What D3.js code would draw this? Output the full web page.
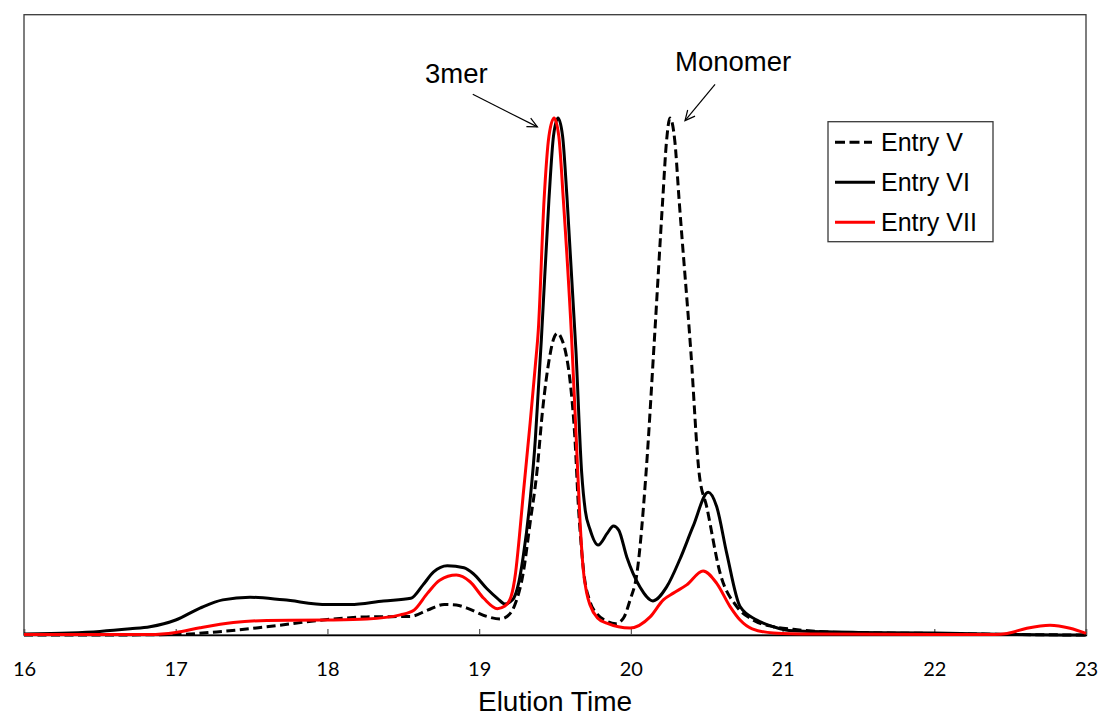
<!DOCTYPE html>
<html>
<head>
<meta charset="utf-8">
<script src="https://cdn.jsdelivr.net/npm/d3@7"></script>
<style>
  html, body { margin: 0; padding: 0; background: #fff; }
  svg { display: block; }
  .tick text { font-family: Lato, "Open Sans", sans-serif; }
</style>
</head>
<body>
<svg id="chart" width="1103" height="717"></svg>
<script>
// Elution profiles: [elution time (min), normalised signal]
const entryV = [
  [16.0, 0], [16.5, 0], [17.0, 0.001], [17.27, 0.006], [17.6, 0.016], [18.0, 0.030],
  [18.26, 0.035], [18.55, 0.036], [18.66, 0.048], [18.77, 0.059], [18.85, 0.058],
  [18.92, 0.052], [19.05, 0.036], [19.14, 0.031], [19.2, 0.040], [19.24, 0.062],
  [19.29, 0.119], [19.336, 0.217], [19.38, 0.313], [19.42, 0.44], [19.46, 0.53],
  [19.49, 0.572], [19.515, 0.584], [19.545, 0.572], [19.575, 0.54], [19.60, 0.49],
  [19.632, 0.377], [19.654, 0.25], [19.665, 0.203], [19.69, 0.12], [19.73, 0.065],
  [19.78, 0.04], [19.84, 0.027], [19.9, 0.022], [19.95, 0.032], [19.995, 0.068],
  [20.04, 0.119], [20.10, 0.313], [20.155, 0.571], [20.21, 0.842], [20.235, 0.955],
  [20.258, 1.0], [20.29, 0.955], [20.318, 0.842], [20.395, 0.55], [20.45, 0.313],
  [20.50, 0.248], [20.588, 0.12], [20.698, 0.055], [20.8, 0.03], [20.94, 0.016],
  [21.07, 0.011], [21.29, 0.006], [21.6, 0.004], [22.0, 0.003], [22.5, 0.001], [23.0, 0]
];

const entryVI = [
  [16.0, 0.002], [16.3, 0.004], [16.5, 0.007], [16.7, 0.012], [16.83, 0.016],
  [17.0, 0.029], [17.16, 0.052], [17.31, 0.068], [17.49, 0.073], [17.71, 0.068],
  [18.0, 0.059], [18.15, 0.059], [18.37, 0.066], [18.55, 0.071], [18.63, 0.097],
  [18.70, 0.122], [18.79, 0.134], [18.90, 0.130], [18.96, 0.119], [19.05, 0.090],
  [19.12, 0.071], [19.17, 0.060], [19.22, 0.068], [19.26, 0.10], [19.29, 0.151],
  [19.336, 0.261], [19.37, 0.377], [19.39, 0.474], [19.41, 0.571], [19.46, 0.842],
  [19.49, 0.965], [19.52, 1.0], [19.55, 0.965], [19.58, 0.842], [19.638, 0.55],
  [19.676, 0.313], [19.70, 0.24], [19.73, 0.205], [19.784, 0.174], [19.845, 0.197],
  [19.885, 0.211], [19.92, 0.203], [19.973, 0.151], [20.06, 0.093], [20.146, 0.066],
  [20.236, 0.093], [20.324, 0.147], [20.41, 0.21], [20.51, 0.276], [20.566, 0.248],
  [20.632, 0.158], [20.72, 0.055], [20.83, 0.029], [20.94, 0.016], [21.07, 0.008],
  [21.5, 0.005], [22.0, 0.004], [22.5, 0.001], [23.0, 0]
];

const entryVII = [
  [16.0, 0.001], [16.5, 0.001], [16.83, 0.001], [17.0, 0.005], [17.16, 0.014],
  [17.38, 0.024], [17.60, 0.028], [18.0, 0.029], [18.26, 0.031], [18.48, 0.039],
  [18.57, 0.048], [18.66, 0.081], [18.74, 0.106], [18.85, 0.116], [18.94, 0.103],
  [19.03, 0.071], [19.12, 0.051], [19.17, 0.056], [19.21, 0.074], [19.24, 0.12],
  [19.265, 0.19], [19.29, 0.27], [19.336, 0.41], [19.37, 0.52], [19.39, 0.59],
  [19.428, 0.842], [19.46, 0.965], [19.494, 1.0], [19.525, 0.965], [19.555, 0.842],
  [19.61, 0.571], [19.64, 0.38], [19.665, 0.22], [19.685, 0.13], [19.71, 0.08],
  [19.731, 0.058], [19.78, 0.033], [19.841, 0.023], [19.995, 0.0135], [20.127, 0.035],
  [20.214, 0.068], [20.28, 0.081], [20.368, 0.097], [20.476, 0.124], [20.566, 0.1],
  [20.654, 0.055], [20.72, 0.029], [20.8, 0.012], [20.94, 0.004], [21.2, 0.002],
  [22.0, 0.001], [22.4, 0.001], [22.48, 0.003], [22.61, 0.013], [22.763, 0.019],
  [22.895, 0.013], [23.0, 0.003]
];

const xTicks = [16, 17, 18, 19, 20, 21, 22, 23];
const seriesNames = ["Entry V", "Entry VI", "Entry VII"];

// Peak annotations: label anchor and arrow from tail to tip, in data units
const annotations = [
  { text: "3mer",    label: [18.643, 1.068], tail: [18.958, 1.046], tip: [19.384, 0.983] },
  { text: "Monomer", label: [20.291, 1.091], tail: [20.555, 1.065], tip: [20.357, 0.995] }
];

const width = 1103, height = 717;
const margin = { top: 14.7, right: 17, bottom: 82, left: 24 };
const plotW = width - margin.left - margin.right;
const plotH = height - margin.top - margin.bottom;

const svg = d3.select("#chart");
const g = svg.append("g").attr("transform", `translate(${margin.left},${margin.top})`);

const x = d3.scaleLinear().domain([16, 23]).range([0, plotW]);
const y = d3.scaleLinear().domain([0, 1.2]).range([plotH, 0]);

// Plot frame
g.append("rect")
  .attr("x", 0).attr("y", 0)
  .attr("width", plotW).attr("height", plotH)
  .attr("fill", "none")
  .attr("stroke", "#3a3a3a")
  .attr("stroke-width", 1.3);

// X axis with inward ticks
const xAxis = d3.axisBottom(x)
  .tickValues(xTicks)
  .tickFormat(d3.format("d"))
  .tickSize(-6)
  .tickPadding(27);

const axisG = g.append("g")
  .attr("transform", `translate(0,${plotH})`)
  .call(xAxis);
axisG.select(".domain").attr("stroke", "#000").attr("stroke-width", 1.3);
axisG.selectAll(".tick line").attr("stroke", "#555").attr("stroke-width", 1.2);
axisG.selectAll(".tick text")
  .attr("font-size", 20)
  .attr("fill", "#000");

// Axis title
svg.append("text")
  .attr("x", margin.left + plotW / 2)
  .attr("y", 710.5)
  .attr("text-anchor", "middle")
  .attr("font-family", "Liberation Sans, Arial, sans-serif")
  .attr("font-size", 28)
  .attr("fill", "#000")
  .text("Elution Time");

// Curves
const line = d3.line()
  .x(d => x(d[0]))
  .y(d => y(d[1]))
  .curve(d3.curveMonotoneX);

const styles = [
  { data: entryV,   color: "#000", dash: "9,4.5" },
  { data: entryVI,  color: "#000", dash: null },
  { data: entryVII, color: "#ff0000", dash: null }
];

const curves = g.append("g");
styles.forEach(s => {
  curves.append("path")
    .datum(s.data)
    .attr("d", line)
    .attr("fill", "none")
    .attr("stroke", s.color)
    .attr("stroke-width", 3)
    .attr("stroke-linejoin", "round")
    .attr("stroke-dasharray", s.dash);
});

// Annotations with open arrowheads
const annG = g.append("g");
annotations.forEach(a => {
  annG.append("text")
    .attr("x", x(a.label[0]))
    .attr("y", y(a.label[1]))
    .attr("font-family", "Liberation Sans, Arial, sans-serif")
    .attr("font-size", 27.5)
    .attr("fill", "#000")
    .text(a.text);

  const x1 = x(a.tail[0]), y1 = y(a.tail[1]);
  const x2 = x(a.tip[0]), y2 = y(a.tip[1]);
  annG.append("line")
    .attr("x1", x1).attr("y1", y1).attr("x2", x2).attr("y2", y2)
    .attr("stroke", "#000").attr("stroke-width", 1.2);

  const ang = Math.atan2(y2 - y1, x2 - x1);
  const len = 11, spread = Math.PI / 7;
  const head = [
    [x2 - len * Math.cos(ang - spread), y2 - len * Math.sin(ang - spread)],
    [x2, y2],
    [x2 - len * Math.cos(ang + spread), y2 - len * Math.sin(ang + spread)]
  ];
  annG.append("path")
    .attr("d", d3.line()(head))
    .attr("fill", "none")
    .attr("stroke", "#000")
    .attr("stroke-width", 1.2);
});

// Legend
const legend = svg.append("g").attr("transform", "translate(828,121.7)");
legend.append("rect")
  .attr("x", 0).attr("y", 0)
  .attr("width", 165).attr("height", 120)
  .attr("fill", "#fff")
  .attr("stroke", "#3a3a3a")
  .attr("stroke-width", 1.3);

seriesNames.forEach((name, i) => {
  const cy = 20.5 + i * 40;
  legend.append("line")
    .attr("x1", 7).attr("x2", i === 0 ? 44 : 47)
    .attr("y1", cy).attr("y2", cy)
    .attr("stroke", styles[i].color)
    .attr("stroke-width", 3)
    .attr("stroke-dasharray", i === 0 ? "10,4.5" : null);
  legend.append("text")
    .attr("x", 53)
    .attr("y", cy + 9)
    .attr("font-family", "Liberation Sans, Arial, sans-serif")
    .attr("font-size", 25)
    .attr("fill", "#000")
    .text(name);
});
</script>
</body>
</html>
